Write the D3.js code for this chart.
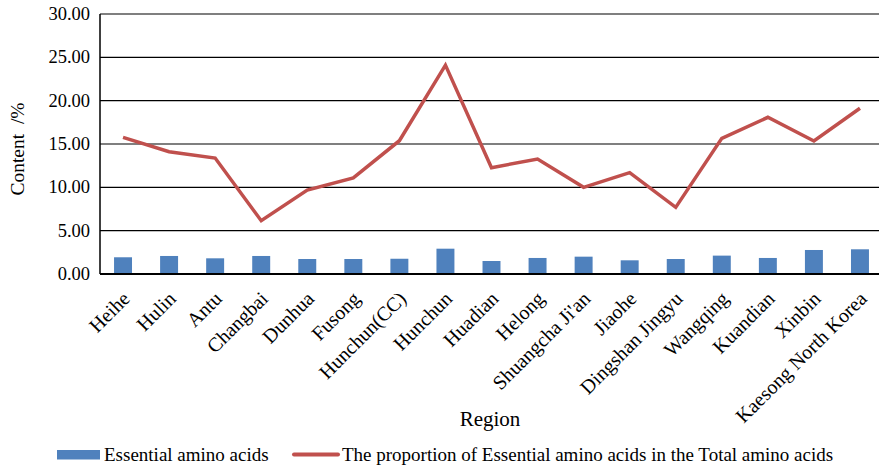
<!DOCTYPE html>
<html>
<head>
<meta charset="utf-8">
<script src="https://cdn.jsdelivr.net/npm/d3@7"></script>
<style>
  body { margin: 0; background: #fff; }
  svg { display: block; font-family: "Liberation Serif", "Times New Roman", serif; }
</style>
</head>
<body>
<div id="chart"></div>
<script>
(function() {
    const regions = ["Heihe", "Hulin", "Antu", "Changbai", "Dunhua", "Fusong", "Hunchun(CC)", "Hunchun",
        "Huadian", "Helong", "Shuangcha Ji'an", "Jiaohe", "Dingshan Jingyu", "Wangqing", "Kuandian",
        "Xinbin", "Kaesong North Korea"];
    const essential = [1.93, 2.08, 1.81, 2.08, 1.73, 1.73, 1.76, 2.92, 1.50, 1.85, 2.00, 1.58, 1.73, 2.12, 1.85, 2.77, 2.85];
    const proportion = [15.77, 14.11, 13.38, 6.15, 9.69, 11.08, 15.38, 24.10, 12.27, 13.27, 10.00, 11.69, 7.69, 15.65, 18.08, 15.35, 19.12];
    const yTicks = [0, 5, 10, 15, 20, 25, 30];

    const W = 879, H = 470;
    const margin = {top: 14, left: 100};
    const plotRight = 883, plotBottom = 274;

    const svg = d3.select("#chart").append("svg")
        .attr("width", W)
        .attr("height", H);

    const x = d3.scaleBand()
        .domain(regions)
        .range([margin.left, plotRight])
        .paddingInner(0.61)
        .paddingOuter(0.305);

    const xc = d3.scalePoint()
        .domain(regions)
        .range([margin.left, plotRight])
        .padding(0.5);

    const y = d3.scaleLinear()
        .domain([0, 30])
        .range([plotBottom, margin.top]);

    // Gridlines
    svg.append("g")
        .selectAll("line")
        .data(yTicks)
        .enter()
        .append("line")
        .attr("x1", margin.left)
        .attr("x2", plotRight)
        .attr("y1", d => y(d))
        .attr("y2", d => y(d))
        .attr("stroke", "#000")
        .attr("stroke-width", 1.2);

    // Y tick labels
    svg.append("g")
        .selectAll("text")
        .data(yTicks)
        .enter()
        .append("text")
        .attr("x", 90)
        .attr("y", d => y(d) + 6)
        .attr("text-anchor", "end")
        .style("font-size", "18.5px")
        .style("fill", "#000")
        .text(d => d.toFixed(2));

    // Bars
    svg.append("g")
        .selectAll("rect")
        .data(essential)
        .enter()
        .append("rect")
        .attr("x", (d, i) => x(regions[i]))
        .attr("y", d => y(d))
        .attr("width", x.bandwidth())
        .attr("height", d => plotBottom - y(d))
        .attr("fill", "#4F81BD");

    // Line
    const line = d3.line()
        .x((d, i) => xc(regions[i]))
        .y(d => y(d));

    svg.append("path")
        .datum(proportion)
        .attr("d", line)
        .attr("fill", "none")
        .attr("stroke", "#C0504D")
        .attr("stroke-width", 3.5)
        .attr("stroke-linejoin", "miter");

    // Axes lines
    svg.append("line")
        .attr("x1", margin.left).attr("x2", margin.left)
        .attr("y1", margin.top).attr("y2", plotBottom)
        .attr("stroke", "#000").attr("stroke-width", 1.5);
    svg.append("line")
        .attr("x1", margin.left).attr("x2", plotRight)
        .attr("y1", plotBottom).attr("y2", plotBottom)
        .attr("stroke", "#000").attr("stroke-width", 1.8);

    // X labels, rotated
    svg.append("g")
        .selectAll("text")
        .data(regions)
        .enter()
        .append("text")
        .attr("transform", d => `translate(${xc(d) + 8},${plotBottom + 26}) rotate(-45)`)
        .attr("text-anchor", "end")
        .style("font-size", "20px")
        .style("fill", "#000")
        .text(d => d);

    // Axis titles
    svg.append("text")
        .attr("transform", `translate(24,149) rotate(-90)`)
        .attr("text-anchor", "middle")
        .attr("xml:space", "preserve")
        .style("white-space", "pre")
        .style("font-size", "19.5px")
        .text("Content  /%");

    svg.append("text")
        .attr("x", 490)
        .attr("y", 426)
        .attr("text-anchor", "middle")
        .style("font-size", "21px")
        .text("Region");

    // Legend
    const legend = svg.append("g");
    legend.append("rect")
        .attr("x", 57).attr("y", 450)
        .attr("width", 43).attr("height", 9.5)
        .attr("fill", "#4F81BD");
    legend.append("text")
        .attr("x", 104).attr("y", 461)
        .style("font-size", "19px")
        .text("Essential amino acids");
    legend.append("line")
        .attr("x1", 294).attr("x2", 338)
        .attr("y1", 454.5).attr("y2", 454.5)
        .attr("stroke", "#C0504D")
        .attr("stroke-width", 4)
        .attr("stroke-linecap", "round");
    legend.append("text")
        .attr("x", 342).attr("y", 461)
        .style("font-size", "19px")
        .text("The proportion of Essential amino acids in the Total amino acids");
})();
</script>
</body>
</html>
